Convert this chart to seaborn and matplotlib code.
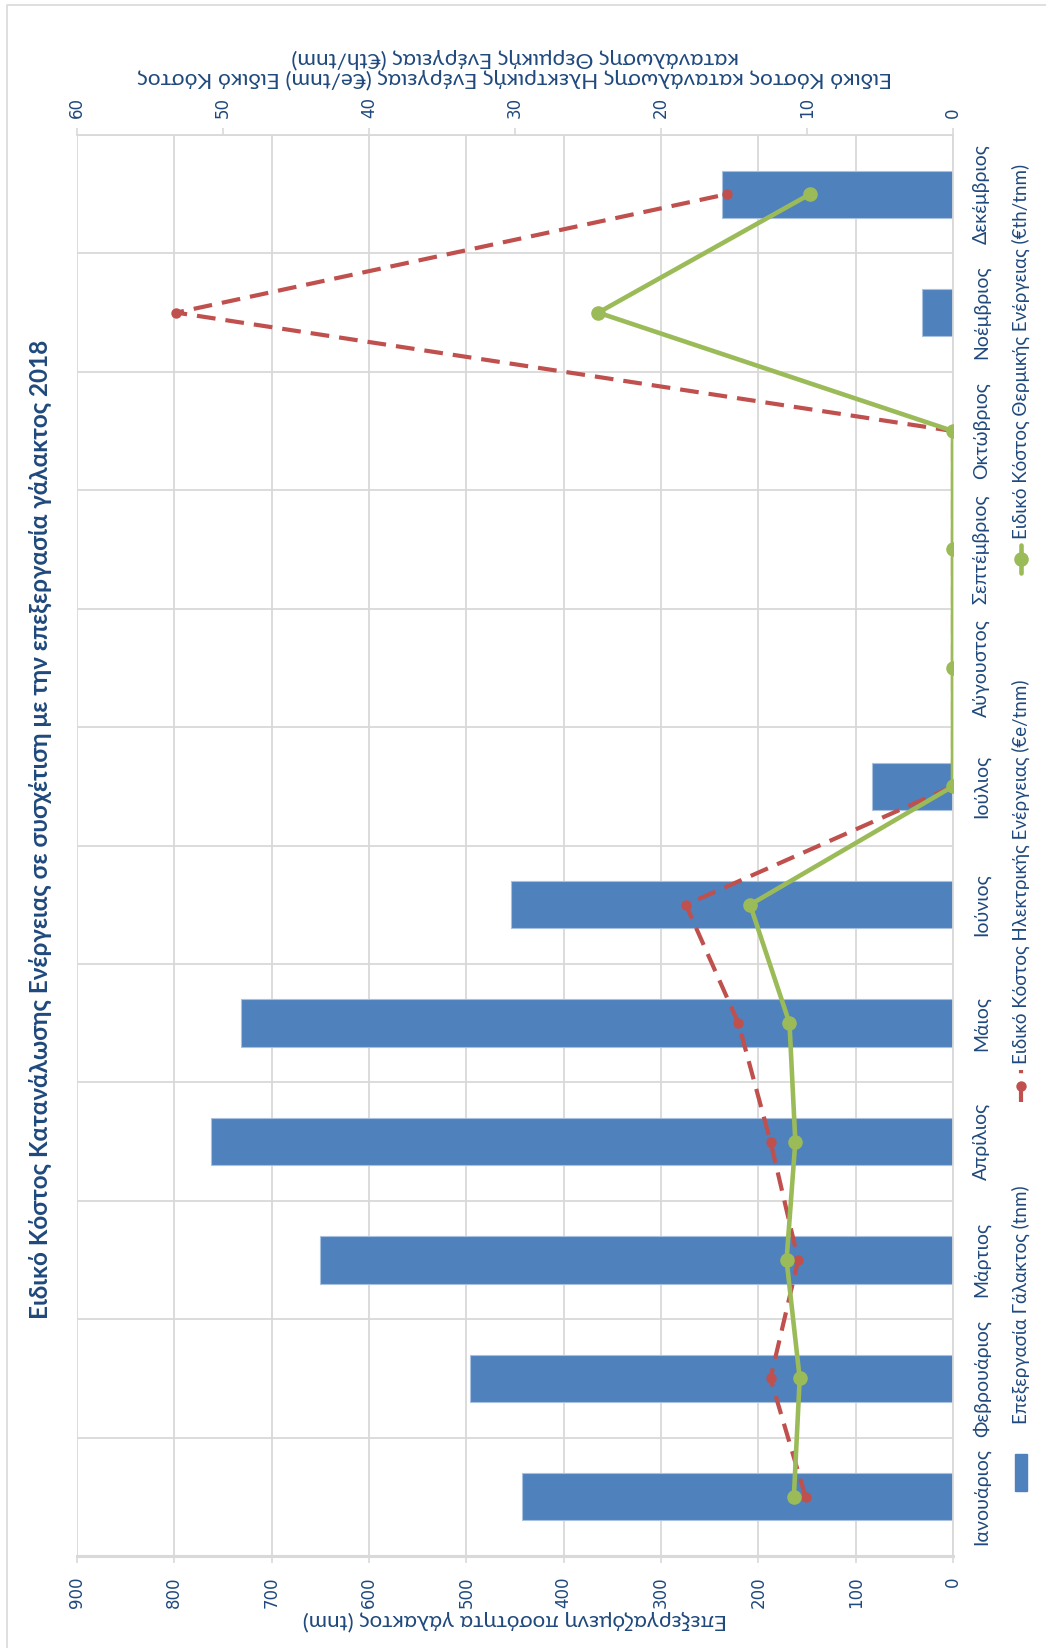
import matplotlib
matplotlib.use("Agg")
import matplotlib.pyplot as plt
from matplotlib import font_manager
from matplotlib.lines import Line2D
from matplotlib.patches import Rectangle
import numpy as np
import pandas as pd
import seaborn as sns

# ---- data -------------------------------------------------------------
months = ["Ιανουάριος", "Φεβρουάριος", "Μάρτιος", "Απρίλιος", "Μάιος", "Ιούνιος",
          "Ιούλιος", "Αύγουστος", "Σεπτέμβριος", "Οκτώβριος", "Νοέμβριος", "Δεκέμβριος"]
milk_tnm = [443, 496, 650, 762, 732, 454, 83, 0, 0, 0, 32, 237]
elec_cost = [10.1, 12.5, 10.6, 12.5, 14.7, 18.3, 0, 0, 0, 0, 53.2, 15.5]
thermal_cost = [10.9, 10.5, 11.4, 10.8, 11.2, 13.9, 0, 0, 0, 0, 24.3, 9.8]

primary_ticks = list(range(0, 901, 100))
secondary_ticks = list(range(0, 61, 10))

title = "Ειδικό Κόστος Κατανάλωσης Ενέργειας σε συσχέτιση με την επεξεργασία γάλακτος 2018"
primary_label = "Επεξεργαζόμενη ποσότητα γάλακτος (tnm)"
secondary_label = ("Ειδικό Κόστος κατανάλωσης Ηλεκτρικής Ενέργειας (€e/tnm) Ειδικό Κόστος\n"
                   "κατανάλωσης Θερμικής Ενέργειας (€th/tnm)")
legend_labels = ["Επεξεργασία Γάλακτος (tnm)",
                 "Ειδικό Κόστος Ηλεκτρικής Ενέργειας (€e/tnm)",
                 "Ειδικό Κόστος Θερμικής Ενέργειας (€th/tnm)"]

# ---- style ------------------------------------------------------------
sns.set_style("white")
available = {f.name for f in font_manager.fontManager.ttflist}


def pick(*names):
    for n in names:
        if n in available:
            return n
    return "DejaVu Sans"


BODY = pick("Lato", "Open Sans", "DejaVu Sans")
plt.rcParams["font.family"] = [BODY, "DejaVu Sans"]

BLUE = "#4F81BD"
RED = "#C0504D"
GREEN = "#9BBB59"
TXT = "#1F497D"
GRID = "#D9D9D9"
RED_DASH = (0, (4.5, 2.4))

W, H = 1046, 1648
fig = plt.figure(figsize=(W / 100, H / 100), dpi=100)


def fx(px):
    return px / W


def fy(py):
    return 1 - py / H


# plot area (months run bottom-to-top, values grow right-to-left)
L, R, T, B = 77, 953, 135, 1556
ax = fig.add_axes([fx(L), fy(B), fx(R) - fx(L), fy(T) - fy(B)])

df = pd.DataFrame({"month": months, "milk": milk_tnm})
sns.barplot(data=df, x="milk", y="month", orient="h", color=BLUE, saturation=1,
            width=0.4, edgecolor="#A9C1DF", linewidth=0.8, ax=ax, zorder=2)
ax.set_xlim(900, 0)
ax.set_ylim(-0.5, 11.5)
ax.set_xlabel("")
ax.set_ylabel("")
ax.set_xticks(primary_ticks)
ax.set_xticklabels([str(t) for t in primary_ticks], rotation=90,
                   family="DejaVu Sans", fontsize=12, color=TXT)
ax.tick_params(axis="x", direction="out", length=5, width=1.2, color=GRID, pad=10)
ax.yaxis.tick_right()
ax.set_yticks(range(len(months)))
ax.set_yticklabels(months, rotation=90, va="center", ha="left",
                   fontsize=14, color=TXT)
ax.tick_params(axis="y", length=0, pad=14)
ax.set_yticks(np.arange(-0.5, 12, 1), minor=True)
ax.tick_params(axis="y", which="minor", length=0)
ax.grid(True, axis="x", which="major", color=GRID, lw=1.3, zorder=0)
ax.grid(True, axis="y", which="minor", color=GRID, lw=1.3, zorder=0)
ax.set_axisbelow(True)
for side in ["left", "top"]:
    ax.spines[side].set_visible(False)
ax.spines["bottom"].set_color(GRID)
ax.spines["bottom"].set_linewidth(2.2)
ax.spines["right"].set_color(GRID)
ax.spines["right"].set_linewidth(1.3)

# secondary value axis on top
ax2 = ax.twiny()
ypos = np.arange(len(months))
sns.lineplot(x=elec_cost, y=ypos, sort=False, estimator=None, ax=ax2, color=RED,
             linewidth=3, linestyle=RED_DASH, marker="o", markersize=7.5,
             markeredgewidth=0)
sns.lineplot(x=thermal_cost, y=ypos, sort=False, estimator=None, ax=ax2, color=GREEN,
             linewidth=3.3, marker="o", markersize=10.5, markeredgewidth=0)
ax2.set_xlim(60, 0)
ax.set_ylim(-0.5, 11.5)
ax2.set_xlabel("")
ax2.set_ylabel("")
ax2.set_xticks(secondary_ticks)
ax2.set_xticklabels([str(t) for t in secondary_ticks], rotation=90,
                    family="DejaVu Sans", fontsize=12, color=TXT)
ax2.tick_params(axis="x", direction="out", length=5, width=1.2, color=GRID, pad=7)
for side in ["left", "right", "bottom"]:
    ax2.spines[side].set_visible(False)
ax2.spines["top"].set_color(GRID)
ax2.spines["top"].set_linewidth(1.3)
ax2.patch.set_visible(False)

# titles
fig.text(fx(40), fy(829), title, rotation=90, ha="center", va="center",
         fontweight="bold", fontsize=17.5, color=TXT)
fig.text(fx(515), fy(1620), primary_label, rotation=180, ha="center", va="center",
         fontsize=16, color=TXT)
fig.text(fx(515), fy(68), secondary_label, rotation=180, ha="center", va="center",
         multialignment="center", fontsize=16.2, color=TXT, linespacing=0.95)

# legend, laid out along the right edge
LX = 1021
fig.add_artist(Rectangle((fx(LX - 6), fy(1491)), fx(12), fy(1454) - fy(1491),
                         transform=fig.transFigure, color=BLUE))
fig.text(fx(LX), fy(1424), legend_labels[0], rotation=90, rotation_mode="anchor",
         ha="left", va="center", fontsize=13.5, color=TXT)
fig.add_artist(Line2D([fx(LX)] * 3, [fy(1102), fy(1086), fy(1070)],
                      transform=fig.transFigure, color=RED, lw=3, linestyle=RED_DASH,
                      marker="o", markersize=7.5, markeredgewidth=0, markevery=[1]))
fig.text(fx(LX), fy(1064), legend_labels[1], rotation=90, rotation_mode="anchor",
         ha="left", va="center", fontsize=13.5, color=TXT)
fig.add_artist(Line2D([fx(LX)] * 3, [fy(573), fy(559), fy(545)], transform=fig.transFigure,
                      color=GREEN, lw=3.3, marker="o", markersize=10.5, markeredgewidth=0,
                      markevery=[1]))
fig.text(fx(LX), fy(539), legend_labels[2], rotation=90, rotation_mode="anchor",
         ha="left", va="center", fontsize=13.5, color=TXT)

# chart frame
fig.add_artist(Line2D([fx(7), fx(7), fx(W)], [fy(H), fy(5), fy(5)],
                      transform=fig.transFigure, color=GRID, lw=1.2))

fig.savefig("out.png", dpi=100)
